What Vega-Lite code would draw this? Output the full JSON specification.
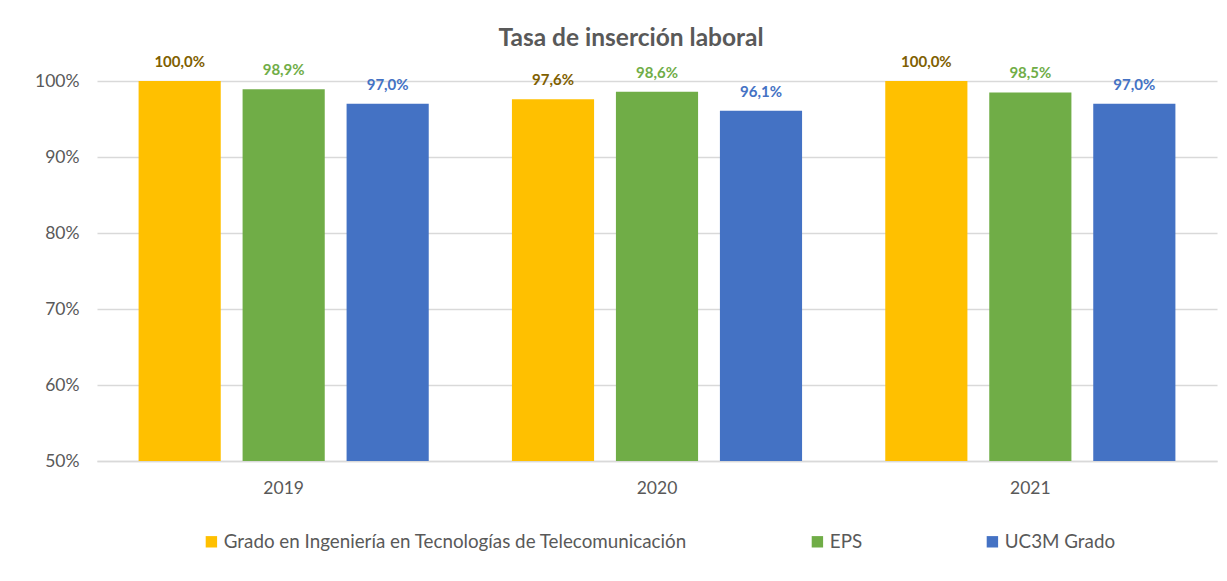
{
  "$schema": "https://vega.github.io/schema/vega-lite/v6.json",
  "width": 1120,
  "height": 380,
  "autosize": "none",
  "padding": {"left": 97, "top": 81, "right": 10, "bottom": 120},
  "background": "white",
  "config": {
    "font": "Lato",
    "view": {"stroke": null},
    "locale": {"number": {"decimal": ",", "thousands": ".", "grouping": [3], "currency": ["", " €"]}}
  },
  "title": {
    "text": "Tasa de inserción laboral",
    "fontSize": 24.5,
    "fontWeight": "bold",
    "color": "#595959",
    "anchor": "middle",
    "dx": -26,
    "offset": 4
  },
  "data": {
    "values": [
      {"year": "2019", "serie": "Grado en Ingeniería en Tecnologías de Telecomunicación", "value": 1.0},
      {"year": "2019", "serie": "EPS", "value": 0.989},
      {"year": "2019", "serie": "UC3M Grado", "value": 0.970},
      {"year": "2020", "serie": "Grado en Ingeniería en Tecnologías de Telecomunicación", "value": 0.976},
      {"year": "2020", "serie": "EPS", "value": 0.986},
      {"year": "2020", "serie": "UC3M Grado", "value": 0.961},
      {"year": "2021", "serie": "Grado en Ingeniería en Tecnologías de Telecomunicación", "value": 1.0},
      {"year": "2021", "serie": "EPS", "value": 0.985},
      {"year": "2021", "serie": "UC3M Grado", "value": 0.970}
    ]
  },
  "encoding": {
    "x": {
      "field": "year", "type": "nominal",
      "scale": {"paddingInner": 0, "paddingOuter": 0},
      "axis": {"title": null, "labelAngle": 0, "labelFontSize": 17.5, "labelColor": "#595959", "ticks": false, "domainColor": "#d9d9d9", "domainWidth": 1.5, "labelPadding": 18}
    },
    "xOffset": {
      "field": "serie", "type": "nominal",
      "sort": ["Grado en Ingeniería en Tecnologías de Telecomunicación", "EPS", "UC3M Grado"],
      "scale": {"paddingInner": 0.21, "paddingOuter": 0.4}
    },
    "y": {
      "field": "value", "type": "quantitative",
      "scale": {"domain": [0.5, 1], "zero": false, "clamp": true},
      "axis": {"title": null, "format": ".0%", "values": [0.5, 0.6, 0.7, 0.8, 0.9, 1.0], "labelFontSize": 17.5, "labelColor": "#595959", "ticks": false, "domain": false, "gridColor": "#d9d9d9", "gridWidth": 1.5, "labelPadding": 18}
    }
  },
  "layer": [
    {
      "mark": {"type": "bar"},
      "encoding": {
        "color": {
          "field": "serie", "type": "nominal",
          "sort": ["Grado en Ingeniería en Tecnologías de Telecomunicación", "EPS", "UC3M Grado"],
          "scale": {"domain": ["Grado en Ingeniería en Tecnologías de Telecomunicación", "EPS", "UC3M Grado"], "range": ["#FFC000", "#70AD47", "#4472C4"]},
          "legend": {
            "title": null, "orient": "none", "legendX": 105, "legendY": 451, "direction": "horizontal",
            "symbolType": "square", "symbolSize": 130, "symbolStrokeWidth": 0,
            "labelFontSize": 18.8, "labelColor": "#595959", "columnPadding": 120,
            "labelLimit": 700, "symbolOffset": 0, "labelOffset": 3
          }
        }
      }
    },
    {
      "mark": {"type": "text", "dy": -19, "fontSize": 15, "fontWeight": "bold", "baseline": "middle"},
      "encoding": {
        "text": {"field": "value", "type": "quantitative", "format": ".1%"},
        "color": {
          "field": "serie", "type": "nominal",
          "scale": {"domain": ["Grado en Ingeniería en Tecnologías de Telecomunicación", "EPS", "UC3M Grado"], "range": ["#7F6000", "#70AD47", "#4472C4"]},
          "legend": null
        }
      }
    }
  ],
  "resolve": {"scale": {"color": "independent"}}
}
